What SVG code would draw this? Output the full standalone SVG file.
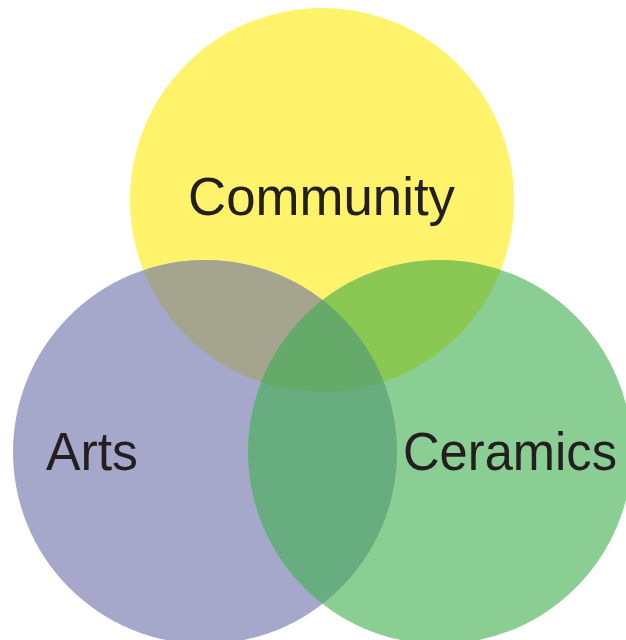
<svg xmlns="http://www.w3.org/2000/svg" width="626" height="640" viewBox="0 0 626 640">
  <defs>
    <circle id="c-community" cx="322" cy="200" r="192"/>
    <circle id="c-arts" cx="205" cy="452" r="192"/>
    <circle id="c-ceramics" cx="440" cy="452" r="192"/>
    <clipPath id="clip-community"><use href="#c-community"/></clipPath>
    <clipPath id="clip-arts"><use href="#c-arts"/></clipPath>
    <clipPath id="clip-ceramics"><use href="#c-ceramics"/></clipPath>
  </defs>
  <style>
    .label { font-family: "Liberation Sans", Arial, sans-serif; font-size: 53px; fill: #231F20; }
  </style>
  <rect width="626" height="640" fill="#FFFFFF"/>

  <g id="community">
    <use href="#c-community" fill="#FEF36A"/>
  </g>
  <g id="arts">
    <use href="#c-arts" fill="#A5A7CB"/>
  </g>
  <g id="ceramics">
    <use href="#c-ceramics" fill="#8BCE93"/>
  </g>

  <!-- overlap regions -->
  <g id="overlaps">
    <g clip-path="url(#clip-community)">
      <use href="#c-arts" fill="#A5A48F"/>
      <use href="#c-ceramics" fill="#8BC853"/>
    </g>
    <g clip-path="url(#clip-arts)">
      <use href="#c-ceramics" fill="#67AD80"/>
    </g>
    <g clip-path="url(#clip-community)">
      <g clip-path="url(#clip-arts)">
        <use href="#c-ceramics" fill="#66AA6A"/>
      </g>
    </g>
  </g>

  <g id="labels">
    <text class="label" x="188" y="215" textLength="267" lengthAdjust="spacingAndGlyphs">Community</text>
    <text class="label" x="46" y="470" textLength="92" lengthAdjust="spacingAndGlyphs">Arts</text>
    <text class="label" x="403" y="470" textLength="214" lengthAdjust="spacingAndGlyphs">Ceramics</text>
  </g>
</svg>
